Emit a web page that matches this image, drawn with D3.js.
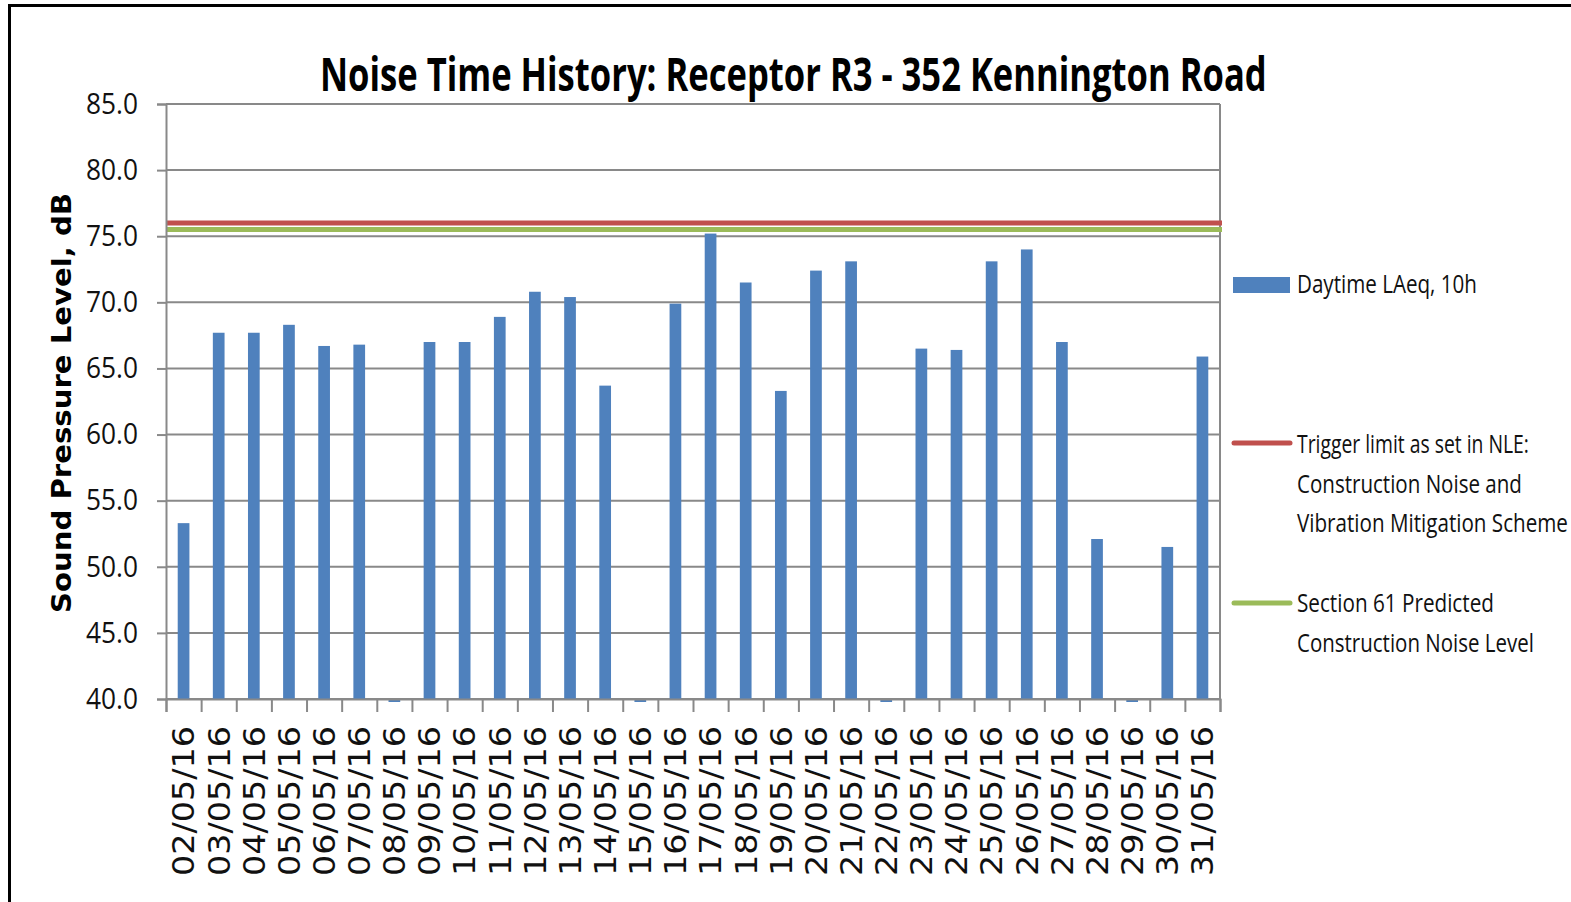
<!DOCTYPE html>
<html>
<head>
<meta charset="utf-8">
<script src="https://cdn.jsdelivr.net/npm/d3@7"></script>
<style>
    body { margin: 0; background: #fff; }
    svg { display: block; }
</style>
</head>
<body>
<div id="chart"></div>
<script>
// day labels along the x axis
const dates = [
    '02/05/16', '03/05/16', '04/05/16', '05/05/16', '06/05/16', '07/05/16',
    '08/05/16', '09/05/16', '10/05/16', '11/05/16', '12/05/16', '13/05/16',
    '14/05/16', '15/05/16', '16/05/16', '17/05/16', '18/05/16', '19/05/16',
    '20/05/16', '21/05/16', '22/05/16', '23/05/16', '24/05/16', '25/05/16',
    '26/05/16', '27/05/16', '28/05/16', '29/05/16', '30/05/16', '31/05/16'
];

// Daytime LAeq,10h (0 = no reading, shows as a sliver under the axis)
const daytimeLAeq = [
    53.3, 67.7, 67.7, 68.3, 66.7, 66.8,
    0,    67.0, 67.0, 68.9, 70.8, 70.4,
    63.7, 0,    69.9, 75.2, 71.5, 63.3,
    72.4, 73.1, 0,    66.5, 66.4, 73.1,
    74.0, 67.0, 52.1, 0,    51.5, 65.9
];

const triggerLimit = 76.0;
const section61Level = 75.5;

const yTicks = [40, 45, 50, 55, 60, 65, 70, 75, 80, 85];

const chartTitle = 'Noise Time History: Receptor R3 - 352 Kennington Road';
const yTitle = 'Sound Pressure Level, dB';

const legendBar = ['Daytime LAeq, 10h'];
const legendTrigger = ['Trigger limit as set in NLE:', 'Construction Noise and', 'Vibration Mitigation Scheme'];
const legendSection61 = ['Section 61 Predicted', 'Construction Noise Level'];

const W = 1571, H = 902;
const margin = {top: 104, right: 351, bottom: 203, left: 166};
const width = W - margin.left - margin.right;
const height = H - margin.top - margin.bottom;

const colors = {bar: '#4f81bd', trigger: '#c0504d', s61: '#9bbb59', grid: '#898989'};

const svg = d3.select('#chart').append('svg')
    .attr('width', W)
    .attr('height', H);

// squeeze a text sideways to a target width (the original font is a narrow one)
function fitText(sel, x, y, target) {
    const w = sel.node().getComputedTextLength();
    sel.attr('transform', 'translate(' + x + ',' + y + ') scale(' + (target / w) + ',1)');
}

// outer frame
svg.append('rect')
    .attr('x', 9.5).attr('y', 5.5)
    .attr('width', W + 20).attr('height', H + 20)
    .attr('fill', 'none')
    .attr('stroke', '#000')
    .attr('stroke-width', 3);

const g = svg.append('g')
    .attr('transform', 'translate(' + margin.left + ',' + margin.top + ')');

const x = d3.scaleBand()
    .domain(dates)
    .range([0, width])
    .paddingInner(2 / 3)
    .paddingOuter(1 / 3);

const xEdge = d3.scaleLinear()
    .domain([0, dates.length])
    .range([0, width]);

const y = d3.scaleLinear()
    .domain([40, 85])
    .range([height, 0]);

// gridlines
g.append('g')
    .selectAll('line')
    .data(yTicks)
    .join('line')
    .attr('x1', 0).attr('x2', width)
    .attr('y1', d => y(d)).attr('y2', d => y(d))
    .attr('stroke', colors.grid)
    .attr('stroke-width', 2);

// right border of plot area
g.append('line')
    .attr('x1', width).attr('x2', width)
    .attr('y1', 0).attr('y2', height)
    .attr('stroke', colors.grid)
    .attr('stroke-width', 2);

// bars
g.append('g')
    .selectAll('rect')
    .data(daytimeLAeq)
    .join('rect')
    .attr('x', (d, i) => x(dates[i]))
    .attr('width', x.bandwidth())
    .attr('y', d => d < 40 ? y(40) : y(d))
    .attr('height', d => d < 40 ? 3 : y(40) - y(d))
    .attr('fill', colors.bar);

// reference lines
[[triggerLimit, colors.trigger], [section61Level, colors.s61]].forEach(([v, c]) => {
    g.append('line')
        .attr('x1', 0).attr('x2', width + 2)
        .attr('y1', y(v)).attr('y2', y(v))
        .attr('stroke', c)
        .attr('stroke-width', 5);
});

// y axis
const yAxis = d3.axisLeft(y)
    .tickValues(yTicks)
    .tickFormat(d3.format('.1f'))
    .tickSize(9)
    .tickPadding(19);

const yAxisG = g.append('g').call(yAxis);
yAxisG.select('.domain').attr('stroke', colors.grid).attr('stroke-width', 2);
yAxisG.selectAll('.tick line').attr('stroke', colors.grid).attr('stroke-width', 2);
yAxisG.selectAll('.tick text')
    .attr('font-family', '"Open Sans", sans-serif')
    .attr('font-size', 29)
    .attr('fill', '#111')
    .attr('textLength', 52)
    .attr('lengthAdjust', 'spacingAndGlyphs');

// x axis: ticks on category edges
const xAxisG = g.append('g')
    .attr('transform', 'translate(0,' + height + ')')
    .call(d3.axisBottom(xEdge).tickValues(d3.range(dates.length + 1)).tickFormat('').tickSize(13));
xAxisG.select('.domain').attr('stroke', colors.grid).attr('stroke-width', 2);
xAxisG.selectAll('.tick line').attr('stroke', colors.grid).attr('stroke-width', 2);

g.append('g')
    .selectAll('text')
    .data(dates)
    .join('text')
    .attr('transform', d => 'translate(' + (x(d) + x.bandwidth() / 2) + ',' + (height + 27) + ') rotate(-90)')
    .attr('text-anchor', 'end')
    .attr('dy', '0.36em')
    .attr('font-family', '"DejaVu Sans", Verdana, sans-serif')
    .attr('font-size', 30)
    .attr('fill', '#111')
    .attr('textLength', 150)
    .attr('lengthAdjust', 'spacingAndGlyphs')
    .text(d => d);

// title
const title = svg.append('text')
    .attr('font-family', '"Open Sans", sans-serif')
    .attr('font-weight', 'bold')
    .attr('font-size', 47)
    .attr('fill', '#000')
    .text(chartTitle);
fitText(title, 320, 91, 947);

// y axis title
svg.append('text')
    .attr('transform', 'translate(71,403) rotate(-90)')
    .attr('text-anchor', 'middle')
    .attr('font-family', '"DejaVu Sans", Verdana, sans-serif')
    .attr('font-weight', 'bold')
    .attr('font-size', 26)
    .attr('fill', '#000')
    .attr('textLength', 420)
    .attr('lengthAdjust', 'spacingAndGlyphs')
    .text(yTitle);

// legend
const legend = svg.append('g');
const legendLens = {
    'Daytime LAeq, 10h': 180,
    'Trigger limit as set in NLE:': 232,
    'Construction Noise and': 225,
    'Vibration Mitigation Scheme': 271,
    'Section 61 Predicted': 197,
    'Construction Noise Level': 237
};

function legendText(lines, y0) {
    lines.forEach((t, i) => {
        const txt = legend.append('text')
            .attr('font-family', '"Open Sans", sans-serif')
            .attr('font-size', 25)
            .attr('fill', '#111')
            .text(t);
        fitText(txt, 1297, y0 + i * 39.5, legendLens[t]);
    });
}

legend.append('rect')
    .attr('x', 1233).attr('y', 277)
    .attr('width', 57).attr('height', 16)
    .attr('fill', colors.bar);
legendText(legendBar, 293);

legend.append('line')
    .attr('x1', 1234).attr('x2', 1290)
    .attr('y1', 443).attr('y2', 443)
    .attr('stroke', colors.trigger)
    .attr('stroke-width', 5)
    .attr('stroke-linecap', 'round');
legendText(legendTrigger, 453);

legend.append('line')
    .attr('x1', 1234).attr('x2', 1290)
    .attr('y1', 603).attr('y2', 603)
    .attr('stroke', colors.s61)
    .attr('stroke-width', 5)
    .attr('stroke-linecap', 'round');
legendText(legendSection61, 612);
</script>
</body>
</html>
